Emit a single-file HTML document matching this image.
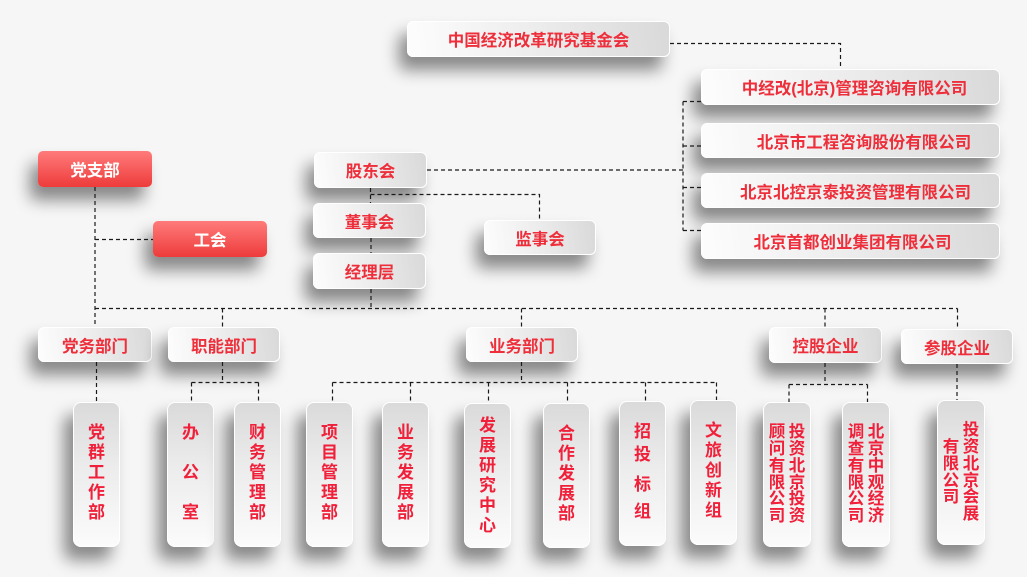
<!DOCTYPE html>
<html><head><meta charset="utf-8"><style>
html,body{margin:0;padding:0}
body{width:1027px;height:577px;background:#f6f6f6;position:relative;overflow:hidden;font-family:"Liberation Sans","Noto Sans CJK SC","WenQuanYi Zen Hei",sans-serif;font-weight:bold}
.b{position:absolute;box-sizing:border-box;border:1.5px solid #fff;border-radius:6px;background:linear-gradient(82deg,#fdfdfd 0%,#eeeeee 45%,#d9d9d9 100%);box-shadow:-8px 13px 16px rgba(0,0,0,0.45);color:#ee2e3a;font-size:16.5px;display:flex;align-items:center;justify-content:center;white-space:nowrap;z-index:2}
.r{background:linear-gradient(to bottom,#ff7b7b,#ee3b3b);border:none;color:#fff;border-radius:5px}
.v{position:absolute;box-sizing:border-box;width:47px;height:145px;border:1.5px solid #fff;border-radius:8px;background:linear-gradient(to top,#fbfbfb 0%,#ececec 55%,#dadada 100%);box-shadow:-9px 13px 16px rgba(0,0,0,0.45);color:#f0203a;font-size:17px;line-height:20px;display:flex;align-items:center;justify-content:center;text-align:center;padding-bottom:4px;z-index:2}
.v2{flex-direction:row-reverse;gap:3px;font-size:16.5px;line-height:16.7px;padding-bottom:0}
.col{width:17px;text-align:center}
svg{position:absolute;left:0;top:0;z-index:3}
</style></head><body>

<div class="b" style="left:407px;top:21px;width:263px;height:36px;">中国经济改革研究基金会</div>

<div class="b" style="left:701px;top:69px;width:299px;height:36px;padding-left:8px;">中经改(北京)管理咨询有限公司</div>
<div class="b" style="left:701px;top:123px;width:299px;height:35px;padding-left:27px;">北京市工程咨询股份有限公司</div>
<div class="b" style="left:701px;top:173px;width:299px;height:35px;padding-left:10px;">北京北控京泰投资管理有限公司</div>
<div class="b" style="left:701px;top:223px;width:299px;height:36px;padding-left:4px;">北京首都创业集团有限公司</div>

<div class="b" style="left:314px;top:152px;width:113px;height:36px;">股东会</div>
<div class="b" style="left:313px;top:203px;width:113px;height:35px;">董事会</div>
<div class="b" style="left:313px;top:253px;width:113px;height:36px;">经理层</div>
<div class="b" style="left:484px;top:220px;width:112px;height:35px;">监事会</div>

<div class="b r" style="left:38px;top:151px;width:114px;height:36px;">党支部</div>
<div class="b r" style="left:153px;top:221px;width:114px;height:36px;">工会</div>

<div class="b" style="left:38px;top:327px;width:114px;height:35px;">党务部门</div>
<div class="b" style="left:168px;top:327px;width:112px;height:35px;">职能部门</div>
<div class="b" style="left:466px;top:327px;width:112px;height:35px;">业务部门</div>
<div class="b" style="left:769px;top:327px;width:113px;height:36px;">控股企业</div>
<div class="b" style="left:901px;top:329px;width:112px;height:35px;">参股企业</div>

<div class="v" style="left:73px;top:402px;">党<br>群<br>工<br>作<br>部</div>
<div class="v" style="left:167px;top:402px;">办<br><br>公<br><br>室</div>
<div class="v" style="left:234px;top:402px;">财<br>务<br>管<br>理<br>部</div>
<div class="v" style="left:306px;top:402px;">项<br>目<br>管<br>理<br>部</div>
<div class="v" style="left:382px;top:402px;">业<br>务<br>发<br>展<br>部</div>
<div class="v" style="left:464px;top:403px;padding-bottom:0;">发<br>展<br>研<br>究<br>中<br>心</div>
<div class="v" style="left:543px;top:403px;">合<br>作<br>发<br>展<br>部</div>
<div class="v" style="left:619px;top:401px;"><div><div>招</div><div style="margin-top:3px">投</div><div style="margin-top:10px">标</div><div style="margin-top:7px">组</div></div></div>
<div class="v" style="left:690px;top:400px;">文<br>旅<br>创<br>新<br>组</div>

<div class="v v2" style="left:763px;top:402px;width:48px;"><div class="col">投资北京投资</div><div class="col">顾问有限公司</div></div>
<div class="v v2" style="left:842px;top:402px;width:48px;"><div class="col">北京中观经济</div><div class="col">调查有限公司</div></div>
<div class="v v2" style="left:937px;top:400px;width:48px;"><div class="col">投资北京会展</div><div class="col">有限公司</div></div>

<svg width="1027" height="577" viewBox="0 0 1027 577">
<g stroke="#1a1a1a" stroke-width="1.2" fill="none" stroke-dasharray="4,3">
<path d="M670 43.5H840.5V69"/>
<path d="M683 101.5V230.5"/>
<path d="M683 101.5H701M683 146H701M683 187.5H701M683 230.5H701"/>
<path d="M427 170H683"/>
<path d="M370.5 188V203"/>
<path d="M370.5 194.5H539.5V220"/>
<path d="M371 238V253"/>
<path d="M371 289V308.5"/>
<path d="M95 187V327"/>
<path d="M95 239.5H153"/>
<path d="M95 308.5H957.5"/>
<path d="M222.5 308.5V327M521.5 308.5V327M825 308.5V327M957.5 308.5V329"/>
<path d="M96.5 362V402"/>
<path d="M222.5 362V382.5M191.5 382.5H258.5M191.5 382.5V402M258.5 382.5V402"/>
<path d="M521.5 362V382.5M332.5 382.5H716.5"/>
<path d="M332.5 382.5V402M410.5 382.5V402M488.5 382.5V403M567.5 382.5V403M645.5 382.5V401M716.5 382.5V400"/>
<path d="M825 363V384.5M789 384.5H867.5M789 384.5V402M867.5 384.5V402"/>
<path d="M957 364V400"/>
</g>
</svg>
</body></html>
